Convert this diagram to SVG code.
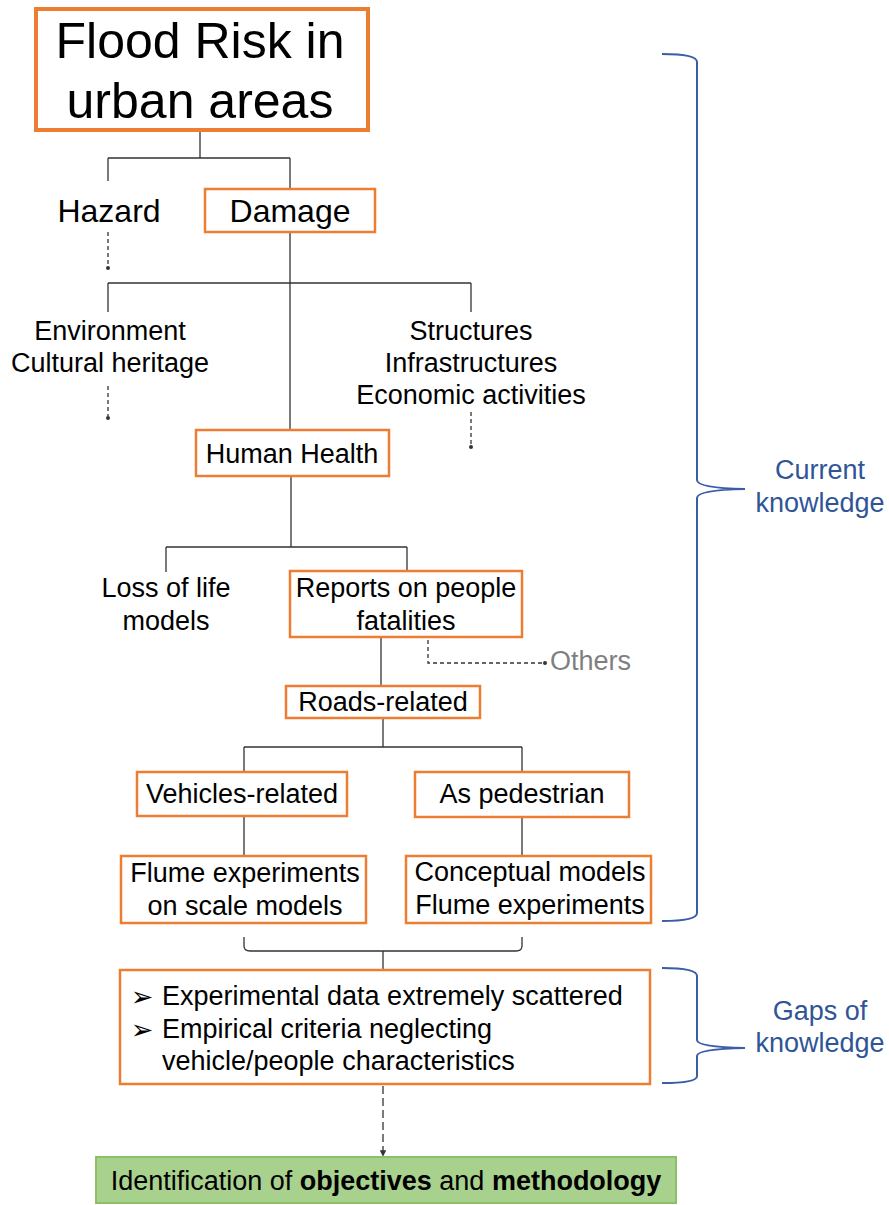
<svg xmlns="http://www.w3.org/2000/svg" width="889" height="1205" viewBox="0 0 889 1205">
<style>
text{font-family:"Liberation Sans",Arial,sans-serif;fill:#000;text-anchor:middle}
.t27{font-size:27px}
.box{fill:#fff;stroke:#ED7D31;stroke-width:2.5}
.ln{fill:none;stroke:#333;stroke-width:1.3}
.dash{fill:none;stroke:#333;stroke-width:1.3;stroke-dasharray:4 3}
.br{fill:none;stroke:#3A5DA6;stroke-width:2}
.blue{fill:#2F5597;font-size:27px}
.bul{font-family:"DejaVu Sans",sans-serif;font-size:27px}
</style>
<defs>
<marker id="ah" viewBox="0 0 10 10" refX="9" refY="5" markerWidth="5" markerHeight="5" orient="auto"><path d="M0,0 L10,5 L0,10 z" fill="#333"/></marker>
</defs>
<g id="connectors">
<path class="ln" d="M200,131 V158 M108,158 H290 M108,158 V181 M290,158 V188"/>
<path class="dash" d="M108,232 V266"/><circle cx="108" cy="268" r="2" fill="#333"/>
<path class="ln" d="M290,232 V430 M108,283 H471 M108,283 V312 M471,283 V312"/>
<path class="dash" d="M108,386 V416"/><circle cx="108" cy="418" r="2" fill="#333"/>
<path class="dash" d="M471,412 V445"/><circle cx="471" cy="447" r="2" fill="#333"/>
<path class="ln" d="M291,476 V547 M166,547 H407 M166,547 V572 M407,547 V571"/>
<path class="ln" d="M381,637 V686"/>
<path class="dash" d="M428,640 V663 H543"/><circle cx="545" cy="663" r="2" fill="#333"/>
<path class="ln" d="M383,718 V747 M244,747 H522 M244,747 V772 M522,747 V772"/>
<path class="ln" d="M244,816 V856 M522,817 V856"/>
<path class="ln" d="M244,937 V946 Q244,951 250,951 H516 Q522,951 522,946 V937 M383,951 V970"/>
<path class="dash" style="stroke-dasharray:8 4" d="M383,1086 V1156" marker-end="url(#ah)"/>
</g>
<g id="title">
<rect x="36" y="9" width="332" height="121" fill="#fff" stroke="#ED7D31" stroke-width="4"/>
<text x="200" y="58" style="font-size:50px">Flood Risk in</text>
<text x="200" y="118" style="font-size:50px">urban areas</text>
</g>
<g id="hazard"><text x="109" y="222" style="font-size:32px">Hazard</text></g>
<g id="damage"><rect class="box" x="205" y="189" width="170" height="43"/><text x="290" y="222" style="font-size:32px">Damage</text></g>
<g id="environment"><text class="t27" x="110" y="340">Environment</text><text class="t27" x="110" y="372">Cultural heritage</text></g>
<g id="structures"><text class="t27" x="471" y="340">Structures</text><text class="t27" x="471" y="372">Infrastructures</text><text class="t27" x="471" y="404">Economic activities</text></g>
<g id="human-health"><rect class="box" x="196" y="430" width="193" height="46"/><text class="t27" x="292" y="463">Human Health</text></g>
<g id="loss-of-life"><text class="t27" x="166" y="597">Loss of life</text><text class="t27" x="166" y="630">models</text></g>
<g id="reports"><rect class="box" x="290" y="571" width="232" height="66"/><text class="t27" x="406" y="597">Reports on people</text><text class="t27" x="406" y="630">fatalities</text></g>
<g id="others"><text class="t27" x="550" y="670" style="text-anchor:start;fill:#7F7F7F">Others</text></g>
<g id="roads"><rect class="box" x="286" y="686" width="194" height="32"/><text class="t27" x="383" y="711">Roads-related</text></g>
<g id="vehicles"><rect class="box" x="137" y="772" width="210" height="44"/><text class="t27" x="242" y="803">Vehicles-related</text></g>
<g id="pedestrian"><rect class="box" x="415" y="772" width="214" height="45"/><text class="t27" x="522" y="803">As pedestrian</text></g>
<g id="flume-vehicles"><rect class="box" x="121" y="856" width="245" height="67"/><text class="t27" x="245" y="882">Flume experiments</text><text class="t27" x="245" y="915">on scale models</text></g>
<g id="flume-pedestrian"><rect class="box" x="406" y="856" width="245" height="67"/><text class="t27" x="530" y="881">Conceptual models</text><text class="t27" x="530" y="914">Flume experiments</text></g>
<g id="gaps-box"><rect class="box" x="120" y="970" width="530" height="114"/>
<text class="bul" x="142" y="1006">➢</text>
<text class="bul" x="142" y="1039">➢</text>
<text class="t27" x="162" y="1005" style="text-anchor:start">Experimental data extremely scattered</text>
<text class="t27" x="162" y="1038" style="text-anchor:start">Empirical criteria neglecting</text>
<text class="t27" x="162" y="1070" style="text-anchor:start">vehicle/people characteristics</text>
</g>
<g id="objectives"><rect x="96" y="1157" width="580" height="46" fill="#A9D18E" stroke="#8CC168" stroke-width="2"/>
<text class="t27" x="386" y="1190">Identification of <tspan font-weight="bold">objectives</tspan> and <tspan font-weight="bold">methodology</tspan></text></g>
<g id="current-knowledge">
<path class="br" d="M662,54 Q697,54 697,62 V480 Q697,488 745,489 Q697,490 697,498 V913 Q697,921 662,921"/>
<text class="blue" x="820" y="479">Current</text><text class="blue" x="820" y="512">knowledge</text>
</g>
<g id="gaps-of-knowledge">
<path class="br" d="M662,968 Q697,968 697,976 V1040 Q697,1047 745,1048 Q697,1049 697,1056 V1076 Q697,1083 662,1083"/>
<text class="blue" x="820" y="1020">Gaps of</text><text class="blue" x="820" y="1052">knowledge</text>
</g>
</svg>
